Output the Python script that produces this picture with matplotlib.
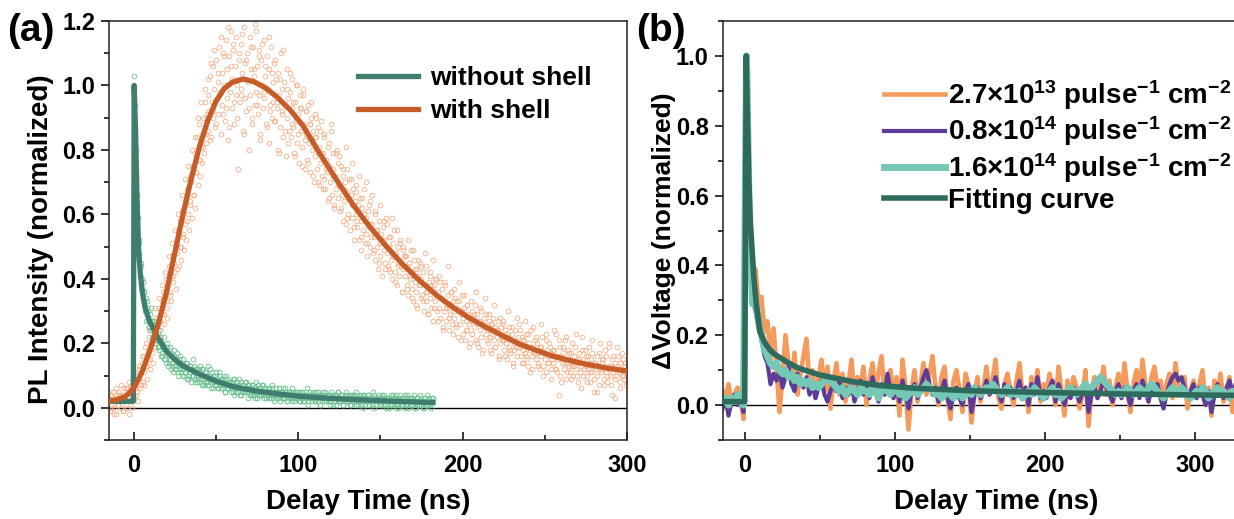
import numpy as np
import matplotlib.pyplot as plt
from matplotlib.ticker import MultipleLocator

plt.rcParams['font.family'] = ['Liberation Sans', 'DejaVu Sans']
plt.rcParams['font.weight'] = 'bold'
plt.rcParams['axes.labelweight'] = 'bold'
plt.rcParams['mathtext.fontset'] = 'custom'
plt.rcParams['mathtext.rm'] = 'Liberation Sans:bold'
plt.rcParams['mathtext.it'] = 'Liberation Sans:bold'
plt.rcParams['mathtext.bf'] = 'Liberation Sans:bold'

# ==== (a) PL decay ====
# fitted curves (ns, normalized)
wo_fit_t = [-15, -0.2, 0.3, 1.2, 2, 3, 4, 5, 6, 7, 8.5, 10, 12, 15, 20, 25, 30, 40,
            50, 60, 70, 80, 100, 120, 140, 160, 182]
wo_fit_y = [0.02, 0.02, 1.0, 0.85, 0.66, 0.49, 0.42, 0.37, 0.335, 0.31, 0.285, 0.265,
            0.245, 0.215, 0.175, 0.15, 0.13, 0.104, 0.083, 0.066, 0.056, 0.048, 0.036,
            0.029, 0.024, 0.02, 0.016]

ws_fit_t = [-15, -10, -5, 0, 5, 10, 15, 20, 25, 30, 35, 40, 45, 50, 55, 60, 66.5, 73,
            80, 87, 95, 103, 113, 123, 133.4, 143, 153.8, 164, 174, 184, 194.4, 204,
            214.6, 225, 234.9, 245, 255, 265, 275.4, 288, 300]
ws_fit_y = [0.02, 0.025, 0.035, 0.06, 0.11, 0.18, 0.26, 0.36, 0.48, 0.6, 0.71, 0.81,
            0.89, 0.95, 0.99, 1.01, 1.02, 1.012, 0.993, 0.965, 0.925, 0.875, 0.79, 0.71,
            0.63, 0.565, 0.5, 0.443, 0.394, 0.35, 0.311, 0.279, 0.249, 0.222, 0.197,
            0.178, 0.16, 0.147, 0.135, 0.123, 0.114]

# raw points without shell: 0.5 ns steps from -1 to 182 ns
wo_pts = [
    0.02, 0.03, 0.58, 1.03, 0.94, 0.80, 0.66, 0.59, 0.51, 0.48, 0.41, 0.44, 0.37, 0.39, 0.33, 0.36, 0.30, 0.34, 0.31, 0.27,
    0.30, 0.25, 0.29, 0.24, 0.27, 0.22, 0.26, 0.23, 0.20, 0.25, 0.21, 0.19, 0.23, 0.18, 0.21, 0.16, 0.20, 0.17, 0.19, 0.15,
    0.18, 0.14, 0.17, 0.19, 0.13, 0.16, 0.15, 0.12, 0.17, 0.14, 0.11, 0.16, 0.13, 0.15, 0.12, 0.14, 0.10, 0.15, 0.12, 0.13,
    0.11, 0.14, 0.12, 0.10, 0.13, 0.11, 0.14, 0.09, 0.12, 0.10, 0.13, 0.11, 0.08, 0.12, 0.10, 0.13, 0.09, 0.11, 0.12, 0.08,
    0.10, 0.12, 0.08, 0.11, 0.09, 0.12, 0.07, 0.10, 0.09, 0.11, 0.08, 0.10, 0.13, 0.07, 0.09, 0.10, 0.08, 0.11, 0.06, 0.09,
    0.08, 0.10, 0.07, 0.09, 0.06, 0.08, 0.11, 0.07, 0.09, 0.06, 0.08, 0.07, 0.10, 0.05, 0.08, 0.07, 0.09, 0.06, 0.08, 0.07,
    0.06, 0.08, 0.07, 0.05, 0.09, 0.06, 0.07, 0.05, 0.08, 0.06, 0.07, 0.04, 0.08, 0.06, 0.05, 0.07, 0.06, 0.08, 0.05, 0.06,
    0.05, 0.07, 0.06, 0.04, 0.06, 0.05, 0.07, 0.04, 0.06, 0.05, 0.03, 0.06, 0.05, 0.07, 0.04, 0.05, 0.06, 0.04, 0.05, 0.07,
    0.04, 0.06, 0.05, 0.03, 0.05, 0.04, 0.06, 0.03, 0.05, 0.04, 0.06, 0.04, 0.03, 0.05, 0.04, 0.06, 0.03, 0.04, 0.05, 0.03,
    0.04, 0.05, 0.03, 0.04, 0.06, 0.03, 0.04, 0.05, 0.02, 0.04, 0.03, 0.05, 0.04, 0.03, 0.05, 0.02, 0.04, 0.03, 0.05, 0.04,
    0.03, 0.05, 0.04, 0.02, 0.04, 0.03, 0.05, 0.03, 0.04, 0.02, 0.04, 0.05, 0.03, 0.04, 0.02, 0.03, 0.05, 0.03, 0.04, 0.02,
    0.03, 0.04, 0.02, 0.03, 0.05, 0.03, 0.02, 0.04, 0.03, 0.01, 0.04, 0.03, 0.05, 0.02, 0.03, 0.04, 0.02, 0.03, 0.04, 0.02,
    0.03, 0.04, 0.02, 0.03, 0.01, 0.04, 0.03, 0.02, 0.04, 0.03, 0.02, 0.05, 0.03, 0.02, 0.03, 0.04, 0.01, 0.03, 0.02, 0.04,
    0.02, 0.03, 0.04, 0.02, 0.03, 0.01, 0.03, 0.04, 0.02, 0.03, 0.02, 0.04, 0.01, 0.03, 0.02, 0.03, 0.04, 0.02, 0.01, 0.03,
    0.02, 0.04, 0.03, 0.01, 0.02, 0.03, 0.02, 0.04, 0.01, 0.03, 0.02, 0.03, 0.01, 0.02, 0.04, 0.02, 0.03, 0.01, 0.02, 0.03,
    0.02, 0.01, 0.03, 0.02, 0.04, 0.01, 0.02, 0.03, 0.01, 0.02, 0.03, 0.02, 0.00, 0.03, 0.02, 0.01, 0.03, 0.02, 0.04, 0.01,
    0.02, 0.03, 0.01, 0.02, 0.00, 0.03, 0.02, 0.01, 0.03, 0.02, 0.01, 0.02, 0.04, 0.01, 0.02, 0.03, 0.00, 0.02, 0.01, 0.03,
    0.02, 0.01, 0.03, 0.02, 0.00, 0.02, 0.01, 0.03, 0.02, 0.01, 0.02, 0.03, 0.01, 0.02, 0.00, 0.02, 0.03, 0.01, 0.02, 0.01,
    0.02, 0.03, 0.01, 0.02, 0.00, 0.02, 0.03,
]
# second pass of points without shell: 1 ns steps from 2.25 to 181.25 ns
wo_pts2 = [
    0.63, 0.52, 0.45, 0.40, 0.36, 0.27, 0.33, 0.25, 0.31, 0.22,
    0.27, 0.21, 0.25, 0.19, 0.24, 0.16, 0.22, 0.15, 0.20, 0.14,
    0.19, 0.13, 0.18, 0.12, 0.17, 0.11, 0.16, 0.10, 0.15, 0.11,
    0.14, 0.09, 0.13, 0.10, 0.15, 0.08, 0.12, 0.09, 0.13, 0.07,
    0.12, 0.07, 0.11, 0.08, 0.12, 0.06, 0.10, 0.07, 0.11, 0.06,
    0.10, 0.06, 0.09, 0.05, 0.10, 0.06, 0.08, 0.05, 0.09, 0.04,
    0.08, 0.05, 0.09, 0.04, 0.07, 0.05, 0.08, 0.03, 0.07, 0.04,
    0.07, 0.04, 0.08, 0.03, 0.06, 0.04, 0.07, 0.03, 0.06, 0.04,
    0.06, 0.03, 0.07, 0.02, 0.05, 0.04, 0.06, 0.02, 0.05, 0.03,
    0.06, 0.02, 0.05, 0.03, 0.06, 0.02, 0.05, 0.03, 0.05, 0.02,
    0.05, 0.02, 0.04, 0.06, 0.01, 0.04, 0.03, 0.05, 0.02, 0.04,
    0.05, 0.01, 0.04, 0.03, 0.05, 0.02, 0.04, 0.01, 0.05, 0.03,
    0.04, 0.01, 0.05, 0.02, 0.04, 0.01, 0.03, 0.05, 0.02, 0.04,
    0.01, 0.04, 0.02, 0.05, 0.01, 0.03, 0.04, 0.00, 0.04, 0.02,
    0.04, 0.01, 0.03, 0.05, 0.00, 0.03, 0.02, 0.04, 0.01, 0.03,
    0.04, 0.00, 0.03, 0.02, 0.04, 0.01, 0.03, 0.04, 0.00, 0.02,
    0.04, 0.01, 0.03, 0.00, 0.04, 0.02, 0.03, 0.01, 0.04, 0.00,
    0.03, 0.01, 0.04, 0.02, 0.00, 0.03, 0.04, 0.01, 0.02, 0.03,
]

# raw points with shell: 0.5 ns steps from -15 to 300 ns
ws_pts = [
    0.02, -0.01, 0.04, 0.01, 0.03, 0.05, 0.00, 0.02, 0.04, -0.02, 0.03, 0.01, 0.05, 0.02, 0.00, 0.04, 0.03, -0.01, 0.06, 0.02,
    0.04, 0.01, 0.06, 0.03, -0.02, 0.05, 0.02, 0.07, 0.00, 0.04, 0.08, 0.03, 0.06, 0.10, 0.05, 0.02, 0.09, 0.12, 0.06, 0.11,
    0.14, 0.08, 0.16, 0.11, 0.19, 0.13, 0.09, 0.18, 0.15, 0.22, 0.12, 0.20, 0.17, 0.25, 0.14, 0.23, 0.19, 0.28, 0.21, 0.26,
    0.24, 0.31, 0.27, 0.22, 0.33, 0.29, 0.36, 0.26, 0.34, 0.40, 0.31, 0.28, 0.38, 0.44, 0.35, 0.41, 0.33, 0.47, 0.39, 0.45,
    0.42, 0.51, 0.37, 0.48, 0.55, 0.44, 0.58, 0.50, 0.46, 0.61, 0.53, 0.49, 0.64, 0.57, 0.52, 0.68, 0.60, 0.55, 0.72, 0.63,
    0.70, 0.59, 0.75, 0.66, 0.79, 0.62, 0.73, 0.84, 0.69, 0.77, 0.88, 0.72, 0.81, 0.76, 0.90, 0.79, 0.85, 0.95, 0.82, 0.91,
    0.86, 0.97, 0.92, 1.03, 0.84, 0.95, 1.06, 0.90, 0.99, 0.87, 1.08, 0.96, 1.01, 0.91, 1.12, 0.98, 0.85, 1.04, 0.94, 1.10,
    1.00, 0.89, 1.14, 0.96, 1.05, 0.83, 1.09, 0.98, 1.17, 0.93, 1.02, 1.11, 0.88, 1.06, 0.97, 1.15, 1.00, 0.74, 1.08, 0.95,
    1.13, 0.99, 1.04, 0.86, 1.18, 0.96, 1.07, 0.92, 1.10, 1.01, 0.80, 1.15, 0.97, 1.05, 0.90, 1.12, 1.03, 0.94, 1.19, 0.98,
    1.06, 0.91, 1.11, 0.97, 0.85, 1.08, 1.00, 0.93, 1.14, 0.96, 1.03, 0.88, 1.09, 0.99, 0.82, 1.05, 0.94, 1.12, 0.90, 1.01,
    0.95, 1.07, 0.89, 1.02, 0.93, 0.80, 1.04, 0.97, 0.87, 1.10, 0.92, 0.99, 0.84, 1.01, 0.94, 0.78, 1.05, 0.90, 0.96, 0.86,
    0.98, 0.84, 0.93, 1.02, 0.87, 0.79, 0.95, 0.89, 1.00, 0.82, 0.91, 0.76, 0.97, 0.86, 0.93, 0.81, 0.99, 0.88, 0.74, 0.92,
    0.85, 0.77, 0.94, 0.82, 0.88, 0.73, 0.90, 0.80, 0.86, 0.70, 0.91, 0.78, 0.84, 0.74, 0.87, 0.69, 0.81, 0.76, 0.89, 0.72,
    0.79, 0.71, 0.84, 0.68, 0.77, 0.73, 0.64, 0.82, 0.75, 0.70, 0.86, 0.66, 0.74, 0.79, 0.62, 0.72, 0.68, 0.80, 0.65, 0.76,
    0.69, 0.61, 0.75, 0.66, 0.58, 0.72, 0.64, 0.70, 0.57, 0.67, 0.74, 0.60, 0.65, 0.55, 0.71, 0.63, 0.59, 0.68, 0.52, 0.64,
    0.60, 0.67, 0.56, 0.63, 0.52, 0.65, 0.58, 0.49, 0.62, 0.55, 0.68, 0.51, 0.59, 0.54, 0.47, 0.61, 0.56, 0.50, 0.64, 0.53,
    0.57, 0.48, 0.53, 0.60, 0.46, 0.55, 0.50, 0.43, 0.58, 0.51, 0.47, 0.54, 0.41, 0.56, 0.49, 0.52, 0.45, 0.59, 0.48, 0.44,
    0.50, 0.43, 0.53, 0.46, 0.40, 0.51, 0.47, 0.55, 0.42, 0.48, 0.38, 0.50, 0.45, 0.41, 0.52, 0.44, 0.36, 0.49, 0.43, 0.47,
    0.41, 0.47, 0.38, 0.44, 0.35, 0.45, 0.40, 0.49, 0.37, 0.42, 0.33, 0.46, 0.39, 0.36, 0.43, 0.31, 0.41, 0.38, 0.45, 0.34,
    0.40, 0.35, 0.42, 0.30, 0.38, 0.33, 0.44, 0.36, 0.29, 0.39, 0.34, 0.41, 0.31, 0.37, 0.27, 0.38, 0.33, 0.40, 0.35, 0.30,
    0.36, 0.31, 0.39, 0.28, 0.34, 0.37, 0.25, 0.33, 0.30, 0.38, 0.27, 0.32, 0.35, 0.24, 0.31, 0.29, 0.36, 0.26, 0.33, 0.30,
    0.28, 0.34, 0.25, 0.31, 0.22, 0.30, 0.33, 0.26, 0.29, 0.35, 0.23, 0.28, 0.31, 0.21, 0.27, 0.32, 0.24, 0.29, 0.26, 0.20,
    0.27, 0.30, 0.23, 0.28, 0.25, 0.32, 0.21, 0.26, 0.29, 0.19, 0.27, 0.24, 0.30, 0.22, 0.26, 0.18, 0.28, 0.25, 0.23, 0.29,
    0.24, 0.20, 0.27, 0.22, 0.26, 0.17, 0.23, 0.28, 0.21, 0.25, 0.19, 0.24, 0.22, 0.27, 0.16, 0.23, 0.20, 0.25, 0.21, 0.26,
    0.21, 0.18, 0.24, 0.20, 0.15, 0.22, 0.19, 0.25, 0.17, 0.21, 0.23, 0.14, 0.20, 0.18, 0.24, 0.19, 0.16, 0.22, 0.20, 0.26,
    0.19, 0.16, 0.22, 0.18, 0.14, 0.21, 0.17, 0.23, 0.15, 0.19, 0.13, 0.20, 0.18, 0.24, 0.16, 0.12, 0.19, 0.17, 0.21, 0.15,
    0.17, 0.20, 0.14, 0.18, 0.12, 0.19, 0.16, 0.22, 0.13, 0.17, 0.15, 0.21, 0.11, 0.18, 0.14, 0.16, 0.19, 0.12, 0.17, 0.15,
    0.14, 0.18, 0.12, 0.16, 0.23, 0.11, 0.15, 0.04, 0.19, 0.10, 0.16, 0.14, 0.17, 0.12, 0.21, 0.15, 0.09, 0.14, 0.18, 0.13,
    0.15, 0.11, 0.17, 0.13, 0.10, 0.16, 0.14, 0.19, 0.12, 0.15, 0.08, 0.14, 0.17, 0.11, 0.13, 0.22, 0.10, 0.15, 0.12, 0.18,
    0.13, 0.10, 0.16, 0.12, 0.14, 0.08, 0.15, 0.11, 0.17, 0.13, 0.05, 0.14, 0.12, 0.16, 0.10, 0.13, 0.07, 0.20, 0.11, 0.14,
    0.12, 0.15, 0.09, 0.13, 0.11, 0.16, 0.08, 0.12, 0.19, 0.10, 0.13, 0.07, 0.15, 0.11, 0.12, 0.03, 0.14, 0.10, 0.13, 0.16,
    0.11, 0.14, 0.08, 0.12, 0.10, 0.15, 0.09, 0.13, 0.11, 0.07, 0.12,
]
# second pass of points with shell: 1 ns steps from -14.75 to 299.75 ns
ws_pts2 = [
    0.05, 0.00, 0.03, -0.02, 0.06, 0.01, 0.04, 0.07, -0.01, 0.03,
    0.06, 0.00, 0.08, 0.02, 0.05, 0.11, 0.04, 0.09, 0.13, 0.07,
    0.16, 0.07, 0.20, 0.13, 0.24, 0.15, 0.27, 0.19, 0.31, 0.21,
    0.34, 0.22, 0.38, 0.29, 0.42, 0.33, 0.47, 0.36, 0.51, 0.41,
    0.55, 0.43, 0.60, 0.50, 0.66, 0.54, 0.71, 0.58, 0.75, 0.64,
    0.80, 0.66, 0.84, 0.73, 0.90, 0.77, 0.95, 0.81, 0.99, 0.85,
    1.02, 0.83, 1.07, 0.92, 1.11, 0.88, 1.04, 0.97, 1.15, 0.91,
    1.09, 0.93, 1.18, 0.87, 1.06, 1.13, 0.95, 1.21, 0.90, 1.10,
    0.97, 1.16, 0.85, 1.08, 1.22, 0.93, 1.12, 0.88, 1.05, 1.17,
    0.94, 1.09, 0.83, 1.13, 0.98, 1.06, 0.87, 1.15, 0.92, 1.04,
    0.89, 1.08, 0.95, 0.79, 1.02, 0.91, 1.11, 0.86, 0.99, 0.82,
    1.04, 0.88, 0.95, 0.78, 1.00, 0.85, 0.93, 0.75, 0.97, 0.83,
    0.92, 0.76, 0.88, 0.95, 0.72, 0.84, 0.90, 0.70, 0.86, 0.79,
    0.68, 0.85, 0.74, 0.81, 0.65, 0.88, 0.72, 0.63, 0.79, 0.69,
    0.78, 0.62, 0.74, 0.68, 0.81, 0.59, 0.71, 0.66, 0.76, 0.56,
    0.69, 0.58, 0.72, 0.53, 0.65, 0.60, 0.70, 0.51, 0.63, 0.57,
    0.66, 0.49, 0.61, 0.55, 0.45, 0.63, 0.52, 0.58, 0.43, 0.57,
    0.53, 0.42, 0.59, 0.47, 0.39, 0.55, 0.44, 0.51, 0.36, 0.50,
    0.47, 0.37, 0.52, 0.41, 0.34, 0.49, 0.43, 0.32, 0.46, 0.38,
    0.44, 0.33, 0.48, 0.36, 0.29, 0.42, 0.38, 0.46, 0.31, 0.40,
    0.27, 0.41, 0.34, 0.24, 0.39, 0.31, 0.44, 0.28, 0.36, 0.23,
    0.37, 0.26, 0.33, 0.39, 0.21, 0.30, 0.35, 0.24, 0.32, 0.19,
    0.33, 0.23, 0.29, 0.36, 0.20, 0.27, 0.31, 0.17, 0.26, 0.34,
    0.21, 0.29, 0.18, 0.26, 0.32, 0.19, 0.24, 0.15, 0.28, 0.22,
    0.27, 0.16, 0.23, 0.30, 0.18, 0.25, 0.13, 0.21, 0.28, 0.19,
    0.24, 0.14, 0.21, 0.27, 0.16, 0.23, 0.11, 0.19, 0.25, 0.17,
    0.22, 0.13, 0.19, 0.26, 0.10, 0.17, 0.23, 0.14, 0.20, 0.09,
    0.18, 0.24, 0.12, 0.16, 0.21, 0.08, 0.19, 0.14, 0.22, 0.11,
    0.17, 0.09, 0.20, 0.13, 0.23, 0.10, 0.15, 0.06, 0.18, 0.12,
    0.16, 0.08, 0.19, 0.11, 0.21, 0.09, 0.14, 0.05, 0.17, 0.12,
    0.15, 0.07, 0.18, 0.10, 0.20, 0.13, 0.04, 0.16, 0.09, 0.19,
    0.12, 0.06, 0.17, 0.10, 0.14, 0.08,
]

# ==== (b) photovoltage transients: 2 ns steps from -15 to 349 ns ====
v_low = [
    0.04, 0.02, 0.06, 0.01, 0.03, 0.05, 0.02, -0.04,
    1.00,
    0.47, 0.38, 0.39, 0.29, 0.31, 0.21, 0.24, 0.13, 0.22,
    0.11, -0.02, 0.08, 0.20, 0.12, 0.06, 0.15, 0.03, 0.09, 0.14,
    0.19, 0.05, 0.10, 0.02, 0.08, 0.13, 0.04, 0.11, -0.01, 0.07,
    0.12, 0.03, 0.09, 0.01, 0.06, 0.13, 0.02, 0.08, 0.05, 0.11,
    0.00, 0.07, 0.12, 0.04, 0.09, 0.14, 0.03, 0.06, 0.10, 0.02,
    0.08, -0.03, 0.13, 0.05, -0.07, 0.04, 0.10, 0.01, 0.06, 0.12,
    0.03, 0.09, 0.14, 0.05, 0.00, 0.08, 0.11, 0.02, -0.04, 0.07,
    0.10, 0.04, -0.02, 0.09, 0.06, -0.05, 0.03, 0.08, 0.01, 0.05,
    0.11, 0.03, 0.07, 0.13, 0.02, -0.01, 0.06, 0.09, 0.04, 0.00,
    0.07, 0.12, 0.03, 0.05, -0.02, 0.08, 0.04, 0.10, 0.01, 0.06,
    0.03, 0.09, 0.05, 0.00, 0.11, 0.04, -0.03, 0.07, 0.02, 0.08,
    0.05, -0.01, 0.03, 0.10, -0.06, 0.04, 0.08, 0.02, 0.06, 0.11,
    0.03, 0.07, 0.00, 0.05, 0.09, 0.02, 0.12, 0.04, -0.02, 0.06,
    0.10, 0.03, 0.13, 0.05, 0.01, 0.08, 0.11, 0.04, 0.07, 0.00,
    0.06, 0.09, 0.02, 0.12, 0.05, 0.03, 0.08, -0.01, 0.04, 0.07,
    0.02, 0.06, 0.10, 0.00, 0.05, -0.03, 0.07, 0.03, 0.09, 0.01,
    0.04, 0.08, -0.02, 0.05, 0.02, 0.11, 0.06, 0.03, 0.07, 0.13,
    0.04, 0.08, 0.02, 0.06, 0.03,
]
v_mid = [
    -0.01, 0.02, -0.03, 0.01, 0.03, 0.00, 0.02, -0.02,
    1.00,
    0.46, 0.30, 0.27, 0.22, 0.19, 0.14, 0.12, 0.06, 0.09,
    0.07, 0.10, 0.05, 0.08, 0.11, 0.06, 0.04, 0.09, 0.07, 0.05,
    0.08, 0.03, 0.06, 0.02, 0.05, 0.07, 0.03, 0.01, 0.04, 0.06,
    0.04, 0.07, 0.02, 0.05, 0.03, 0.06, 0.01, 0.04, 0.07, 0.03,
    0.05, 0.02, 0.08, 0.04, 0.01, 0.06, 0.03, 0.09, 0.04, 0.02,
    0.05, 0.01, 0.07, 0.03, -0.01, 0.04, 0.06, 0.02, 0.05, 0.08,
    0.10, 0.06, 0.03, 0.05, 0.01, 0.04, 0.07, 0.02, -0.01, 0.03,
    0.05, 0.02, 0.00, 0.04, 0.06, -0.02, 0.03, 0.05, 0.02, 0.04,
    0.07, 0.03, 0.05, 0.08, 0.04, 0.01, 0.06, 0.03, 0.05, 0.02,
    0.04, 0.07, 0.02, 0.05, 0.00, 0.06, 0.03, 0.08, 0.02, 0.04,
    0.02, 0.05, 0.07, 0.01, 0.06, 0.03, 0.00, 0.04, 0.02, 0.05,
    0.03, 0.01, 0.04, 0.06, -0.02, 0.03, 0.05, 0.02, 0.04, 0.07,
    0.05, 0.03, 0.01, 0.04, 0.06, 0.02, 0.05, 0.03, 0.00, 0.04,
    0.06, 0.02, 0.07, 0.04, 0.01, 0.05, 0.03, 0.06, 0.02, -0.01,
    0.03, 0.06, 0.08, 0.09, 0.07, 0.08, 0.05, 0.03, 0.04, 0.06,
    0.02, 0.05, 0.03, 0.00, 0.04, -0.02, 0.03, 0.06, 0.04, 0.02,
    0.05, 0.07, 0.03, 0.06, 0.04, 0.08, 0.05, 0.02, 0.06, 0.09,
    0.05, 0.07, 0.03, 0.06, 0.04,
]
v_high = [
    0.01, 0.02, 0.00, 0.02, 0.01, 0.03, 0.01, 0.00,
    1.00,
    0.50, 0.29, 0.30, 0.24, 0.20, 0.16, 0.14, 0.12, 0.11,
    0.12, 0.10, 0.09, 0.10, 0.08, 0.09, 0.07, 0.08, 0.06, 0.07,
    0.06, 0.07, 0.05, 0.06, 0.05, 0.06, 0.07, 0.08, 0.07, 0.06,
    0.05, 0.04, 0.05, 0.03, 0.04, 0.05, 0.04, 0.03, 0.05, 0.04,
    0.04, 0.03, 0.05, 0.04, 0.02, 0.04, 0.05, 0.04, 0.03, 0.04,
    0.05, 0.03, 0.04, 0.02, 0.03, 0.04, 0.05, 0.03, 0.04, 0.05,
    0.06, 0.05, 0.04, 0.03, 0.04, 0.02, 0.03, 0.04, 0.03, 0.02,
    0.03, 0.04, 0.02, 0.03, 0.04, 0.03, 0.05, 0.04, 0.03, 0.04,
    0.05, 0.04, 0.06, 0.05, 0.04, 0.03, 0.04, 0.05, 0.03, 0.04,
    0.03, 0.04, 0.02, 0.03, 0.04, 0.03, 0.05, 0.04, 0.03, 0.02,
    0.03, 0.04, 0.05, 0.03, 0.04, 0.02, 0.03, 0.04, 0.05, 0.04,
    0.03, 0.04, 0.05, 0.06, 0.04, 0.05, 0.06, 0.07, 0.08, 0.07,
    0.06, 0.05, 0.04, 0.03, 0.04, 0.03, 0.04, 0.05, 0.04, 0.03,
    0.04, 0.05, 0.04, 0.03, 0.05, 0.06, 0.05, 0.04, 0.03, 0.02,
    0.03, 0.04, 0.05, 0.04, 0.03, 0.05, 0.04, 0.03, 0.02, 0.03,
    0.04, 0.03, 0.05, 0.04, 0.02, 0.03, 0.04, 0.05, 0.03, 0.04,
    0.03, 0.02, 0.04, 0.03, 0.05, 0.04, 0.03, 0.02, 0.03, 0.04,
    0.03, 0.04, 0.02, 0.03, 0.04,
]
b_fit_t = [-15, -0.2, 0.8, 1.5, 2.5, 3.5, 4.5, 6, 7.5, 10, 13, 16.6, 20, 27.7, 35, 50,
           72, 90, 114, 150, 200, 250, 300, 350]
b_fit_y = [0.01, 0.01, 1.0, 0.85, 0.65, 0.53, 0.46, 0.36, 0.29, 0.21, 0.18, 0.158, 0.145,
           0.124, 0.107, 0.086, 0.067, 0.056, 0.048, 0.041, 0.036, 0.032, 0.029, 0.027]

b_labels = ['2.7×10$^{13}$ pulse$^{-1}$ cm$^{-2}$',
            '0.8×10$^{14}$ pulse$^{-1}$ cm$^{-2}$',
            '1.6×10$^{14}$ pulse$^{-1}$ cm$^{-2}$',
            'Fitting curve']

# tempo das amostras
t_wo = np.linspace(-1, 182, len(wo_pts))
t_wo2 = np.linspace(2.25, 181.25, len(wo_pts2))
t_ws = np.linspace(-15, 300, len(ws_pts))
t_ws2 = np.linspace(-14.75, 299.75, len(ws_pts2))
t_b = np.linspace(-15, 349, len(v_low))

W, H = 1234, 519
fig = plt.figure(figsize=(W / 100, H / 100), dpi=100)
ax1 = fig.add_axes([109 / W, 1 - 440 / H, 518 / W, 419 / H])
ax2 = fig.add_axes([722.5 / W, 1 - 440 / H, 547.5 / W, 419 / H])


def estilo(ax):
    for s in ax.spines.values():
        s.set_linewidth(1.1)
        s.set_color('#222222')
    ax.tick_params(axis='x', which='both', direction='in', labelsize=17, pad=10)
    ax.tick_params(axis='y', which='both', direction='out', labelsize=17, pad=4)
    ax.tick_params(which='major', length=6, width=1.1)
    ax.tick_params(which='minor', length=3.5, width=1.1)
    ax.xaxis.set_major_locator(MultipleLocator(100))
    ax.xaxis.set_minor_locator(MultipleLocator(50))
    ax.yaxis.set_major_locator(MultipleLocator(0.2))
    ax.yaxis.set_minor_locator(MultipleLocator(0.1))
    ax.yaxis.set_major_formatter(lambda v, p: f'{v:.1f}')
    ax.axhline(0, color='black', lw=1.0, zorder=1.5)


# 1. painel (a)
pts = dict(ls='none', marker='o', mfc='none', ms=3.4, mew=0.6, zorder=2)
ax1.plot(t_ws, ws_pts, mec='#f5b088', **pts)
ax1.plot(t_ws2, ws_pts2, mec='#f5b088', **pts)
ax1.plot(t_wo, wo_pts, mec='#6cc091', **pts)
ax1.plot(t_wo2, wo_pts2, mec='#6cc091', **pts)
ax1.plot(wo_fit_t, wo_fit_y, color='#3f7d6e', lw=3.8, label='without shell', zorder=3)
ax1.plot(ws_fit_t, ws_fit_y, color='#c65d28', lw=3.8, label='with shell', zorder=3)
estilo(ax1)
ax1.set_xlim(-15, 300)
ax1.set_ylim(-0.1, 1.2)
ax1.set_xlabel('Delay Time (ns)', fontsize=20, labelpad=9)
ax1.set_ylabel('PL Intensity (normalized)', fontsize=20)
ax1.yaxis.set_label_coords(-0.106, 0.48)
ax1.legend(loc='upper left', bbox_to_anchor=(0.48, 0.893), frameon=False, fontsize=19,
           handlelength=2.3, handletextpad=0.45, labelspacing=0.34, borderpad=0,
           borderaxespad=0)

# 2. painel (b)
ax2.plot(t_b, v_low, color='#f49a5c', lw=3.3, label=b_labels[0], zorder=2)
ax2.plot(t_b, v_mid, color='#5b3c98', lw=3.0, label=b_labels[1], zorder=2.1)
ax2.plot(t_b, v_high, color='#74c8b4', lw=5.0, label=b_labels[2], zorder=2.2)
ax2.plot(b_fit_t, b_fit_y, color='#2f6b5c', lw=4.0, label=b_labels[3], zorder=3)
estilo(ax2)
ax2.set_xlim(-15, 350)
ax2.set_ylim(-0.1, 1.1)
ax2.set_xlabel('Delay Time (ns)', fontsize=20, labelpad=9)
ax2.set_ylabel('ΔVoltage (normalized)', fontsize=19)
ax2.yaxis.set_label_coords(-0.085, 0.5)
ax2.legend(loc='upper left', bbox_to_anchor=(0.295, 0.864), frameon=False, fontsize=20,
           handlelength=2.2, handletextpad=0.1, labelspacing=0.1, borderpad=0,
           borderaxespad=0)

fig.text(7 / W, 1 - 31 / H, '(a)', fontsize=28, va='center', ha='left')
fig.text(636 / W, 1 - 31 / H, '(b)', fontsize=28, va='center', ha='left')

fig.savefig('out.png', dpi=100)
